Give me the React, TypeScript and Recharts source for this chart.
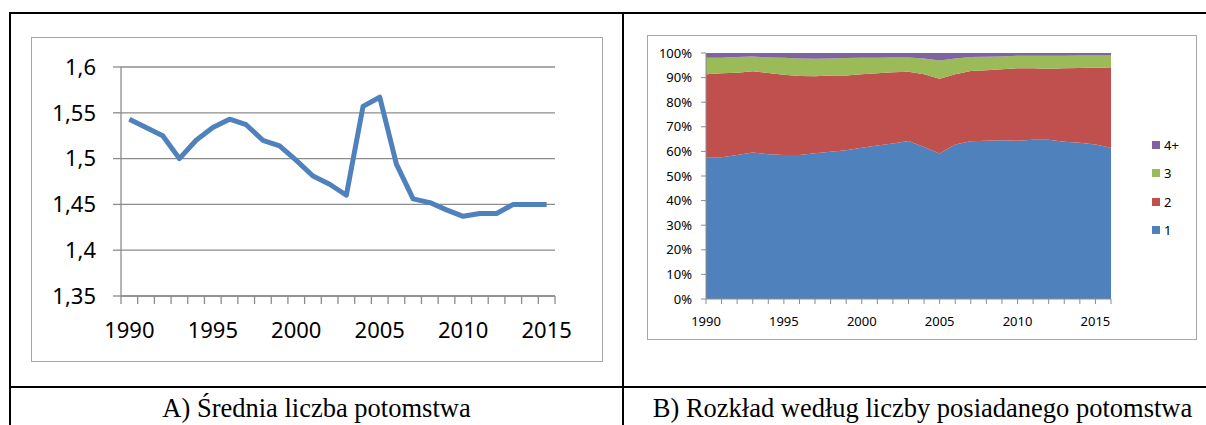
import React from "react"
import { LineChart, Line, AreaChart, Area, XAxis, YAxis, CartesianGrid } from "recharts"

// A) średnia liczba potomstwa
const lineYears = [
  1990, 1991, 1992, 1993, 1994, 1995, 1996, 1997, 1998, 1999, 2000, 2001, 2002,
  2003, 2004, 2005, 2006, 2007, 2008, 2009, 2010, 2011, 2012, 2013, 2014, 2015,
]
const avgOffspring = [
  1.543, 1.534, 1.525, 1.5, 1.52, 1.534, 1.543, 1.537, 1.52, 1.514, 1.498, 1.481, 1.472,
  1.46, 1.557, 1.567, 1.494, 1.456, 1.452, 1.444, 1.437, 1.44, 1.44, 1.45, 1.45, 1.45,
]
const lineYTicks = [1.35, 1.4, 1.45, 1.5, 1.55, 1.6]
const lineLabelYears = [1990, 1995, 2000, 2005, 2010, 2015]

// B) rozkład według liczby potomstwa (udział w %)
const distYears = [
  1990, 1991, 1992, 1993, 1994, 1995, 1996, 1997, 1998, 1999, 2000, 2001, 2002, 2003,
  2004, 2005, 2006, 2007, 2008, 2009, 2010, 2011, 2012, 2013, 2014, 2015, 2016,
]
const share1 = [
  57.6, 57.6, 58.5, 59.6, 58.8, 58.5, 58.5, 59.2, 59.9, 60.5, 61.5, 62.4, 63.2, 64.2,
  61.8, 59.1, 62.8, 64.1, 64.3, 64.5, 64.3, 64.7, 64.7, 63.9, 63.5, 62.8, 61.5,
]
const share2 = [
  33.8, 34.2, 33.5, 33.0, 33.1, 32.7, 32.2, 31.3, 31.0, 30.4, 29.9, 29.4, 29.0, 28.2,
  29.6, 30.4, 28.6, 28.6, 28.7, 28.9, 29.5, 29.1, 28.9, 29.9, 30.4, 31.3, 32.4,
]
const share3 = [
  6.7, 6.3, 6.4, 6.0, 6.3, 6.9, 7.1, 7.2, 6.9, 7.1, 6.7, 6.3, 6.0, 5.8,
  6.4, 7.5, 6.4, 5.7, 5.5, 5.2, 5.1, 5.1, 5.3, 5.1, 5.1, 4.9, 5.1,
]
const share4 = [
  1.9, 1.9, 1.6, 1.4, 1.8, 1.9, 2.2, 2.3, 2.2, 2.0, 1.9, 1.9, 1.8, 1.8,
  2.2, 3.0, 2.2, 1.6, 1.5, 1.4, 1.1, 1.1, 1.1, 1.1, 1.0, 1.0, 1.0,
]
const seriesKeys = ["s1", "s2", "s3", "s4"]
const seriesNames = ["1", "2", "3", "4+"]
const seriesColors = ["#4F81BD", "#C0504D", "#9BBB59", "#8064A2"]
const pctTicks = [0, 0.1, 0.2, 0.3, 0.4, 0.5, 0.6, 0.7, 0.8, 0.9, 1]

const lineData = lineYears.map((year, i) => ({ year, value: avgOffspring[i] }))
const yearBounds = [...lineYears.map((y) => y - 0.5), lineYears[lineYears.length - 1] + 0.5]

const distData = distYears.map((year, i) => ({
  year,
  s1: share1[i],
  s2: share2[i],
  s3: share3[i],
  s4: share4[i],
}))

const FONT = "'Noto Sans', 'Open Sans', sans-serif"
const SERIF = "'Liberation Serif', 'DejaVu Serif', serif"
const AXIS_GRAY = "#8c8c8c"
const FRAME_GRAY = "#a6a6a6"

function fmtComma(v: number): string {
  return String(Number(v.toFixed(2))).replace(".", ",")
}

function Rule({ left, top, width, height }: { left: number; top: number; width: number; height: number }) {
  return <div style={{ position: "absolute", left, top, width, height, background: "#000" }} />
}

export default function App() {
  return (
    <div
      style={{
        position: "absolute",
        left: 0,
        top: 0,
        width: 1206,
        height: 425,
        overflow: "hidden",
        background: "#fff",
      }}
    >
      {/* table lines */}
      <Rule left={9} top={12} width={1220} height={2} />
      <Rule left={9} top={12} width={2} height={420} />
      <Rule left={622} top={12} width={2} height={420} />
      <Rule left={9} top={386} width={1220} height={2} />

      {/* chart frames */}
      <div
        style={{
          position: "absolute",
          left: 31,
          top: 37,
          width: 572,
          height: 325,
          border: `1.5px solid ${FRAME_GRAY}`,
          boxSizing: "border-box",
        }}
      />
      <div
        style={{
          position: "absolute",
          left: 647,
          top: 35,
          width: 550,
          height: 305,
          border: `1.5px solid ${FRAME_GRAY}`,
          boxSizing: "border-box",
        }}
      />

      {/* A) line chart */}
      <div style={{ position: "absolute", left: 31, top: 38, fontFamily: FONT }}>
        <LineChart width={571} height={324} data={lineData} margin={{ top: 29, right: 47, bottom: 0, left: 0 }}>
          <CartesianGrid xAxisId="a_marks" vertical={false} stroke={AXIS_GRAY} strokeWidth={1.3} />
          <XAxis
            xAxisId="b_labels"
            dataKey="year"
            type="number"
            domain={[1989.5, 2015.5]}
            ticks={lineLabelYears}
            interval={0}
            axisLine={false}
            tickLine={false}
            tickSize={0}
            tickMargin={18}
            height={58}
            tick={{ fontSize: 22, fill: "#000", fontFamily: FONT }}
          />
          <XAxis
            xAxisId="a_marks"
            dataKey="year"
            type="number"
            domain={[1989.5, 2015.5]}
            ticks={yearBounds}
            interval={0}
            tickFormatter={() => ""}
            tickSize={8}
            height={8}
            stroke={AXIS_GRAY}
            strokeWidth={1.3}
          />
          <YAxis
            domain={[1.35, 1.6]}
            ticks={lineYTicks}
            interval={0}
            tickFormatter={fmtComma}
            width={90}
            tickSize={8}
            tickMargin={17}
            stroke={AXIS_GRAY}
            strokeWidth={1.3}
            tick={{ fontSize: 22, fill: "#000", fontFamily: FONT }}
          />
          <Line
            xAxisId="a_marks"
            dataKey="value"
            type="linear"
            stroke="#4F81BD"
            strokeWidth={5}
            strokeLinejoin="round"
            dot={false}
            isAnimationActive={false}
          />
        </LineChart>
      </div>

      {/* B) 100% stacked area chart */}
      <div style={{ position: "absolute", left: 647, top: 36, fontFamily: FONT }}>
        <AreaChart
          width={549}
          height={303}
          data={distData}
          stackOffset="expand"
          margin={{ top: 17, right: 85, bottom: 0, left: 0 }}
        >
          <XAxis
            dataKey="year"
            type="number"
            domain={[1990, 2016]}
            ticks={distYears}
            interval={0}
            tickFormatter={(y: number) => (y % 5 === 0 ? String(y) : "")}
            tickSize={5}
            tickMargin={13}
            height={40}
            stroke={AXIS_GRAY}
            tick={{ fontSize: 13, fill: "#000", fontFamily: FONT }}
          />
          <YAxis
            domain={[0, 1]}
            ticks={pctTicks}
            interval={0}
            tickFormatter={(v: number) => `${Math.round(v * 100)}%`}
            width={59}
            tickSize={5}
            tickMargin={9}
            stroke={AXIS_GRAY}
            tick={{ fontSize: 13, fill: "#000", fontFamily: FONT }}
          />
          {seriesKeys.map((k, i) => (
            <Area
              key={k}
              dataKey={k}
              name={seriesNames[i]}
              stackId="a"
              type="linear"
              fill={seriesColors[i]}
              fillOpacity={1}
              stroke="none"
              isAnimationActive={false}
            />
          ))}
        </AreaChart>
      </div>

      {/* legend B */}
      {seriesNames
        .map((n, i) => ({ n, c: seriesColors[i] }))
        .reverse()
        .map((it, j) => (
          <div
            key={it.n}
            style={{
              position: "absolute",
              left: 1152,
              top: 136 + j * 28.4,
              height: 18,
              display: "flex",
              alignItems: "center",
              fontFamily: FONT,
              fontSize: 13,
              color: "#000",
            }}
          >
            <span style={{ width: 8, height: 8, background: it.c, marginRight: 4 }} />
            {it.n}
          </div>
        ))}

      {/* captions */}
      <div
        style={{
          position: "absolute",
          left: 11,
          width: 611,
          top: 395,
          textAlign: "center",
          fontFamily: SERIF,
          fontSize: 26.5,
          lineHeight: 1,
          whiteSpace: "nowrap",
        }}
      >
        A) Średnia liczba potomstwa
      </div>
      <div
        style={{
          position: "absolute",
          left: 624,
          width: 597,
          top: 395,
          textAlign: "center",
          fontFamily: SERIF,
          fontSize: 26.5,
          lineHeight: 1,
          whiteSpace: "nowrap",
        }}
      >
        B) Rozkład według liczby posiadanego potomstwa
      </div>
    </div>
  )
}
